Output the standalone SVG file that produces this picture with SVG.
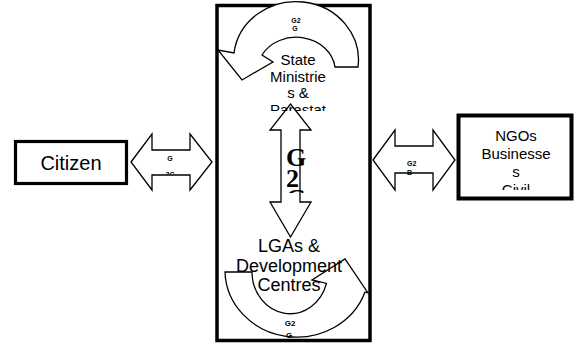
<svg xmlns="http://www.w3.org/2000/svg" width="574" height="344" viewBox="0 0 574 344">
  <style>
    .frame { fill: #fff; stroke: #000; }
    .shape { fill: #fff; stroke: #000; stroke-width: 1.3; stroke-linejoin: miter; }
    .lbl { font-family: "Liberation Sans", Arial, sans-serif; fill: #000; text-anchor: middle; }
    .tag { font-family: "Liberation Sans", Arial, sans-serif; font-weight: bold; fill: #000; }
    .big { font-family: "Liberation Serif", "Times New Roman", serif; font-weight: bold; font-size: 26px; fill: #000; }
  </style>
  <defs>
    <clipPath id="clip-state"><rect x="220" y="40" width="148" height="71"/></clipPath>
    <clipPath id="clip-ngo"><rect x="461" y="118" width="108" height="72"/></clipPath>
    <clipPath id="clip-g2c"><rect x="152" y="150" width="38" height="24.5"/></clipPath>
    <clipPath id="clip-g2g-mid"><rect x="270" y="140" width="45" height="53"/></clipPath>
    <clipPath id="clip-g2g-bot"><rect x="220" y="300" width="148" height="38.5"/></clipPath>
  </defs>

  <!-- government column -->
  <g id="government">
    <rect class="frame" x="217" y="5.5" width="153" height="335" stroke-width="3.5"/>
  </g>

  <!-- connectors -->
  <g id="connectors">
    <!-- G2G loop at state level -->
    <path id="loop-state" class="shape" d="M358,67 A62,58 0 0 0 234,53 L218,50 L242,80 L273,62 L262,55 A39,34 0 0 1 335,67 Z"/>
    <!-- G2G loop at local level -->
    <path id="loop-local" class="shape" d="M225,272 A72,67 0 0 0 365,292 L368,293 L345,259 L312,280 L326.5,283.4 A38,42 0 0 1 252,272 Z"/>
    <!-- vertical G2G link -->
    <polygon id="link-g2g" class="shape" points="290.5,104 311,130 300,130 300,202 311,202 290.5,237 270,202 281,202 281,130 270,130"/>
    <!-- G2C link -->
    <polygon id="link-g2c" class="shape" points="131,162 152,134 152,150 190,150 190,134 212,162 190,190 190,175 152,175 152,190"/>
    <!-- G2B link -->
    <polygon id="link-g2b" class="shape" points="373,160 395,130 395,146 433,146 433,130 455,160 433,190 433,173 395,173 395,190"/>
  </g>

  <!-- citizen -->
  <g id="citizen">
    <rect class="frame" x="15.5" y="141.5" width="111" height="42" stroke-width="3.2"/>
    <text class="lbl" x="71" y="170" font-size="20">Citizen</text>
  </g>

  <!-- NGOs / business / civil society -->
  <g id="ngos">
    <rect class="frame" x="458.5" y="115.5" width="113" height="83" stroke-width="4"/>
    <g clip-path="url(#clip-ngo)" class="lbl" font-size="15">
      <text x="516" y="141">NGOs</text>
      <text x="516" y="159">Businesse</text>
      <text x="516" y="177">s</text>
      <text x="516" y="195">Civil</text>
    </g>
  </g>

  <!-- state ministries -->
  <g id="state">
    <g clip-path="url(#clip-state)" class="lbl" font-size="15">
      <text x="298" y="65">State</text>
      <text x="298" y="81.5">Ministrie</text>
      <text x="298" y="97.5">s &amp;</text>
      <text x="298" y="115">Parastat</text>
    </g>
  </g>

  <!-- local governments -->
  <g id="local">
    <g class="lbl" font-size="18">
      <text x="289" y="252">LGAs &amp;</text>
      <text x="289" y="272">Development</text>
      <text x="289" y="291">Centres</text>
    </g>
  </g>

  <!-- link labels -->
  <g id="labels">
    <g class="tag" font-size="7" text-anchor="middle">
      <text x="296" y="23">G2</text>
      <text x="295" y="31">G</text>
    </g>
    <g clip-path="url(#clip-g2g-bot)" class="tag" font-size="8" text-anchor="middle">
      <text x="290" y="326">G2</text>
      <text x="289" y="338">G</text>
    </g>
    <g clip-path="url(#clip-g2c)" class="tag" font-size="7" text-anchor="middle">
      <text x="170" y="161">G</text>
      <text x="170" y="176.5">2C</text>
    </g>
    <g class="tag" font-size="7">
      <text x="407" y="166">G2</text>
      <text x="407" y="175">B</text>
    </g>
    <g clip-path="url(#clip-g2g-mid)">
      <text class="big" x="286" y="166">G</text>
      <text class="big" x="286" y="187">2</text>
      <text class="big" x="286" y="206.5">G</text>
    </g>
  </g>
</svg>
